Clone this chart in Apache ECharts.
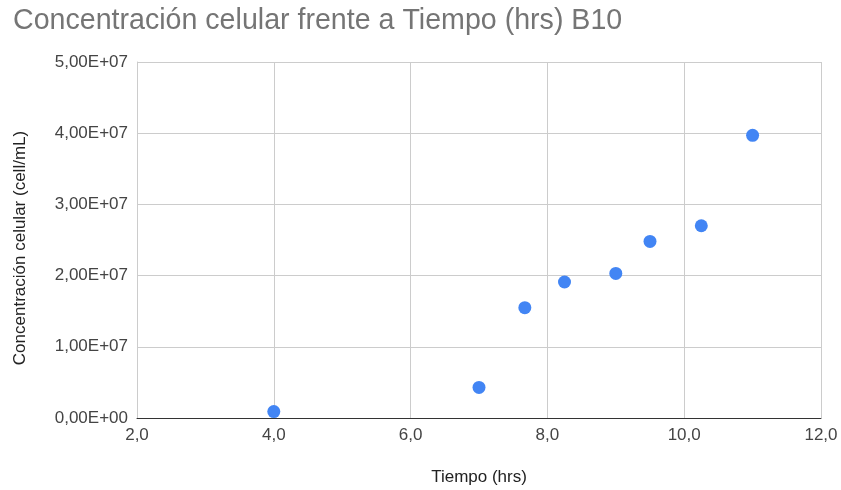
<!DOCTYPE html>
<html>
<head>
<meta charset="utf-8">
<script src="https://cdn.jsdelivr.net/npm/echarts@6/dist/echarts.min.js"></script>
<style>
  html, body { margin: 0; padding: 0; background: #fff; overflow: hidden; }
  #chart { width: 841px; height: 490px; }
</style>
</head>
<body>
<div id="chart"></div>
<script>
// Tiempo (hrs) y concentración celular (cell/mL), muestra B10
const tiempoHrs = [4.0, 7.0, 7.67, 8.25, 9.0, 9.5, 10.25, 11.0];
const concentracion = [9.0e5, 4.3e6, 1.55e7, 1.91e7, 2.03e7, 2.48e7, 2.70e7, 3.97e7];

const puntos = tiempoHrs.map((t, i) => [t, concentracion[i]]);

// Formato científico con coma decimal: 5,00E+07
function sci(v) {
  if (v === 0) return '0,00E+00';
  const e = Math.floor(Math.log10(Math.abs(v)));
  const m = v / Math.pow(10, e);
  const sign = e < 0 ? '-' : '+';
  const ee = String(Math.abs(e)).padStart(2, '0');
  return m.toFixed(2).replace('.', ',') + 'E' + sign + ee;
}

const chart = echarts.init(document.getElementById('chart'), null, { renderer: 'canvas', width: 841, height: 490 });
const fam = '"Liberation Sans", Arial, sans-serif';
const labelFont = { fontFamily: fam, fontSize: 17, color: '#444444' };
const nameFont = { fontFamily: fam, fontSize: 17, color: '#222222' };

chart.setOption({
  animation: false,
  backgroundColor: '#ffffff',
  title: {
    text: 'Concentración celular frente a Tiempo (hrs) B10',
    left: 8,
    top: 2,
    textStyle: { fontFamily: fam, fontSize: 28.6, fontWeight: 'normal', color: '#757575' }
  },
  grid: { left: 137, width: 684, top: 62, height: 356, containLabel: false, outerBoundsMode: 'none' },
  xAxis: {
    type: 'value',
    min: 2, max: 12, interval: 2,
    name: 'Tiempo (hrs)',
    nameLocation: 'middle',
    nameGap: 51,
    nameTextStyle: nameFont,
    axisLine: { show: true, lineStyle: { color: '#333333', width: 1 } },
    axisTick: { show: false },
    axisLabel: Object.assign({ margin: 9, formatter: v => v.toFixed(1).replace('.', ',') }, labelFont),
    splitLine: { show: true, lineStyle: { color: '#cccccc', width: 1 } }
  },
  yAxis: {
    type: 'value',
    min: 0, max: 5e7, interval: 1e7,
    name: 'Concentración celular (cell/mL)',
    nameLocation: 'middle',
    nameGap: 108,
    nameRotate: 90,
    nameTextStyle: Object.assign({ padding: [0, 16, 0, 0] }, nameFont),
    axisLine: { show: true, lineStyle: { color: '#cccccc', width: 1 } },
    axisTick: { show: false },
    axisLabel: Object.assign({ margin: 9, formatter: v => sci(v) }, labelFont),
    splitLine: { show: true, lineStyle: { color: '#cccccc', width: 1 } }
  },
  series: [{
    type: 'scatter',
    data: puntos,
    symbol: 'circle',
    symbolSize: 13,
    itemStyle: { color: '#4285F4', opacity: 1 }
  }]
});
</script>
</body>
</html>
